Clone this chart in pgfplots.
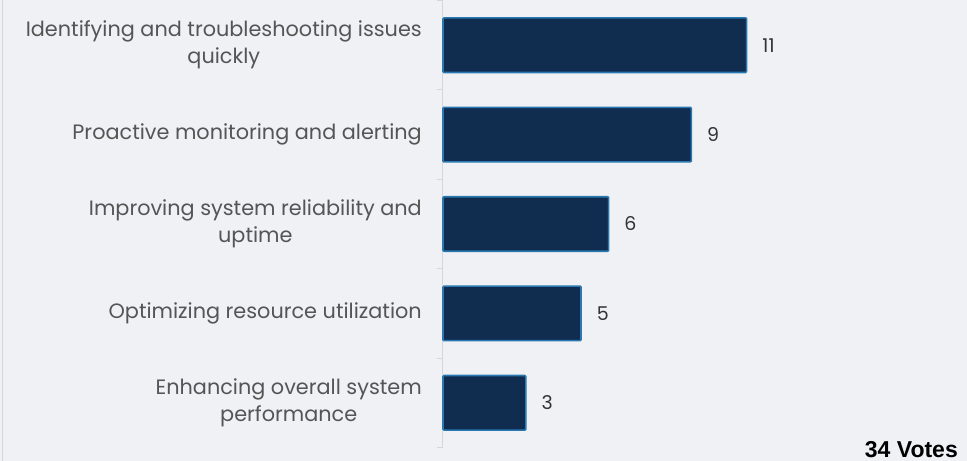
\documentclass[border=0pt]{standalone}
\usepackage{fontspec}
\setmainfont{Poppins}
\newfontfamily\arialfont{Liberation Sans}
\usepackage{pgfplots}
\pgfplotsset{compat=1.18}
\usetikzlibrary{backgrounds,calc}
\definecolor{bg}{HTML}{EFF1F5}
\definecolor{barfill}{HTML}{102D50}
\definecolor{barline}{HTML}{2A78B2}
\definecolor{axisgray}{HTML}{D3D6DB}
\definecolor{labgray}{HTML}{555555}
\definecolor{valgray}{HTML}{333333}
\begin{document}
\begin{tikzpicture}
\begin{axis}[
  scale only axis=true,
  width=517pt, height=447pt,
  xbar, xmin=0, xmax=18.73,
  ymin=-0.5, ymax=4.5, y dir=reverse,
  bar width=0.61,
  axis x line=none,
  axis y line*=left,
  axis line style={axisgray, line width=1pt},
  ytick={0,1,2,3,4},
  yticklabels={{Identifying and troubleshooting issues\\quickly},
               {Proactive monitoring and alerting},
               {Improving system reliability and\\uptime},
               {Optimizing resource utilization},
               {Enhancing overall system\\performance}},
  yticklabel style={align=center, text=labgray, font=\fontsize{20.8}{27}\selectfont, inner sep=0pt, xshift=-21pt},
  major tick length=0pt,
  minor ytick={-0.5,0.5,1.5,2.5,3.5,4.5},
  minor tick length=6pt,
  tick align=outside,
  minor tick style={axisgray, line width=1pt},
  /pgf/number format/assume math mode=true,
  nodes near coords,
  every node near coord/.append style={anchor=west, inner sep=0pt, xshift=15pt, text=valgray, font=\fontsize{19}{22}\selectfont},
  clip=false,
]
\addplot[fill=barfill, draw=barline, line width=1.6pt, rounded corners=1pt] coordinates {(11,0) (9,1) (6,2) (5,3) (3,4)};
\coordinate (o) at (axis description cs:0,0);
\end{axis}
\begin{pgfonlayer}{background}
\fill[bg] ($(o)+(-443pt,-13pt)$) rectangle ++(967pt,460pt);
\draw[axisgray, line width=0.8pt] ($(o)+(-440.5pt,-13pt)$) -- ++(0,460pt);
\end{pgfonlayer}
\node[anchor=base east, inner sep=0pt, font=\arialfont\bfseries\fontsize{23}{26}\selectfont] at ($(o)+(515pt,-10pt)$) {34 Votes};
\end{tikzpicture}
\end{document}
